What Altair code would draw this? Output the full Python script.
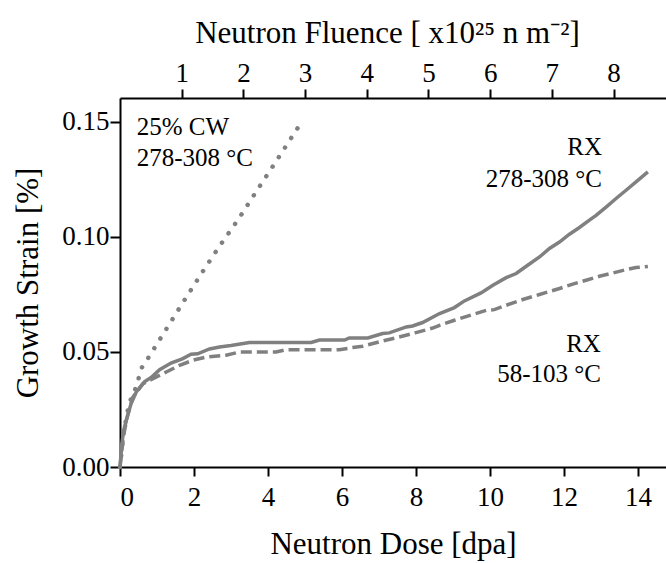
import altair as alt
import pandas as pd

# RX 278-308 °C (solid)
rx_hot_dose = [0, 0.05, 0.1, 0.17, 0.3, 0.44, 0.66, 0.85, 1.07, 1.38, 1.70, 1.92, 2.1, 2.42, 2.69, 3.0, 3.5,
               5.17, 5.39, 6.07, 6.2, 6.70, 7.10, 7.28, 7.74, 7.91, 8.18, 8.5, 8.64, 9.04, 9.31, 9.76,
               10.08, 10.44, 10.71, 11.02, 11.34, 11.61, 11.88, 12.15, 12.42, 12.69, 12.87, 13.14, 13.41,
               13.68, 13.95, 14.27]
rx_hot_strain = [0, 0.010, 0.016, 0.0203, 0.0276, 0.0326, 0.0370, 0.0390, 0.0423, 0.0452, 0.0471, 0.0490,
                 0.0492, 0.0513, 0.0522, 0.0528, 0.0541, 0.0541, 0.0552, 0.0552, 0.0561, 0.0561, 0.0580,
                 0.0583, 0.0609, 0.0613, 0.0628, 0.0655, 0.0667, 0.0693, 0.0722, 0.0757, 0.0790, 0.0823,
                 0.0841, 0.0877, 0.0913, 0.0950, 0.0978, 0.1012, 0.1041, 0.1073, 0.1094, 0.1130, 0.1167,
                 0.1203, 0.1239, 0.1283]

# RX 58-103 °C (dashed)
rx_cold_dose = [0, 0.1, 0.2, 0.35, 0.62, 0.89, 1.25, 1.61, 1.97, 2.33, 2.87, 3.23, 4.22, 4.49, 5.93, 6.29,
                6.56, 7.10, 7.55, 8.0, 8.45, 8.64, 9.04, 9.54, 9.9, 10.12, 10.44, 10.89, 11.34, 11.88,
                12.24, 12.6, 12.96, 13.32, 13.68, 13.95, 14.27]
rx_cold_strain = [0, 0.014, 0.022, 0.0304, 0.0362, 0.0384, 0.0413, 0.0442, 0.0464, 0.0478, 0.0486, 0.0500,
                  0.0500, 0.0510, 0.0510, 0.0519, 0.0525, 0.0548, 0.0565, 0.0584, 0.0604, 0.0616, 0.0638,
                  0.0663, 0.0681, 0.0684, 0.0703, 0.0728, 0.0750, 0.0776, 0.0795, 0.0812, 0.0829, 0.0843,
                  0.0858, 0.0867, 0.0872]

# 25% CW 278-308 °C (dotted)
cw_dose = [0, 0.1, 0.2, 0.3, 0.41, 0.5, 0.59, 0.75, 1.23, 1.71, 2.19, 2.69, 3.20, 3.69, 4.18, 4.83]
cw_strain = [0, 0.015, 0.024, 0.030, 0.0338, 0.0384, 0.0432, 0.0471, 0.0594, 0.0717, 0.0838, 0.0960,
             0.1077, 0.1199, 0.1319, 0.1480]

dose_ticks = [0, 2, 4, 6, 8, 10, 12, 14]
strain_ticks = [0, 0.05, 0.10, 0.15]
fluence_ticks = [1, 2, 3, 4, 5, 6, 7, 8]

# annotations
left_labels = ["25% CW", "278-308 °C"]
left_x = [0.45, 0.45]
left_y = [0.1442, 0.1307]
right_labels = ["RX", "278-308 °C", "RX", "58-103 °C"]
right_x = [13.03, 13.03, 13.0, 13.0]
right_y = [0.1355, 0.1217, 0.0500, 0.0370]

FONT = "Liberation Serif"
GRAY = "#808080"

xscale = alt.Scale(domain=[0, 14.76], nice=False, zero=False)
yscale = alt.Scale(domain=[0, 0.1604], nice=False, zero=False)

xaxis = alt.Axis(values=dose_ticks, title="Neutron Dose [dpa]", grid=False, format="d",
                 titleX=273, titleY=86, titleBaseline="alphabetic", labelPadding=8)
yaxis = alt.Axis(values=strain_ticks, title="Growth Strain [%]", grid=False, format=".2f",
                 titleX=-92, titleY=184.5, titleAngle=270, titleAlign="center",
                 titleBaseline="middle", labelPadding=1, tickSize=10)

def line(dose, strain, **kw):
    df = pd.DataFrame({"dose": dose, "strain": strain})
    return alt.Chart(df).mark_line(color=GRAY, **kw).encode(
        x=alt.X("dose:Q", scale=xscale, axis=xaxis),
        y=alt.Y("strain:Q", scale=yscale, axis=yaxis),
    )

solid = line(rx_hot_dose, rx_hot_strain, strokeWidth=3.5)
dashed = line(rx_cold_dose, rx_cold_strain, strokeWidth=3.5, strokeDash=[11, 5])
dotted = line(cw_dose, cw_strain, strokeWidth=4.5, strokeDash=[0.1, 11.3], strokeCap="round")

left_txt = alt.Chart(pd.DataFrame({"x": left_x, "y": left_y, "t": left_labels})).mark_text(
    font=FONT, fontSize=25, align="left", baseline="alphabetic", color="black"
).encode(x=alt.X("x:Q", scale=xscale), y=alt.Y("y:Q", scale=yscale), text="t:N")

right_txt = alt.Chart(pd.DataFrame({"x": right_x, "y": right_y, "t": right_labels})).mark_text(
    font=FONT, fontSize=25, align="right", baseline="alphabetic", color="black"
).encode(x=alt.X("x:Q", scale=xscale), y=alt.Y("y:Q", scale=yscale), text="t:N")

main = alt.layer(dotted, solid, dashed, left_txt, right_txt)

top = alt.Chart(pd.DataFrame({"f": fluence_ticks, "y": [0] * len(fluence_ticks)})).mark_point(
    opacity=0
).encode(
    x=alt.X("f:Q", scale=alt.Scale(domain=[0, 8.85], nice=False, zero=False),
            axis=alt.Axis(orient="top", values=fluence_ticks, format="d", grid=False,
                          title="Neutron Fluence [ x10²⁵ n m⁻²]", titleX=267, titleY=-56,
                          titleBaseline="alphabetic", labelPadding=2)),
    y=alt.Y("y:Q", scale=yscale),
)

chart = alt.layer(main, top).resolve_scale(x="independent").properties(
    width=546, height=369, autosize="none",
    padding={"left": 120, "top": 98, "right": 0, "bottom": 96},
).configure_view(stroke=None).configure_axis(
    labelFont=FONT, titleFont=FONT, labelFontSize=27, titleFontSize=31,
    labelColor="black", titleColor="black", titleFontWeight="normal",
    domainColor="black", domainWidth=2, tickColor="black", tickWidth=2, tickSize=9,
)

chart.save("out.html", embed_options={"renderer": "svg", "actions": False})
